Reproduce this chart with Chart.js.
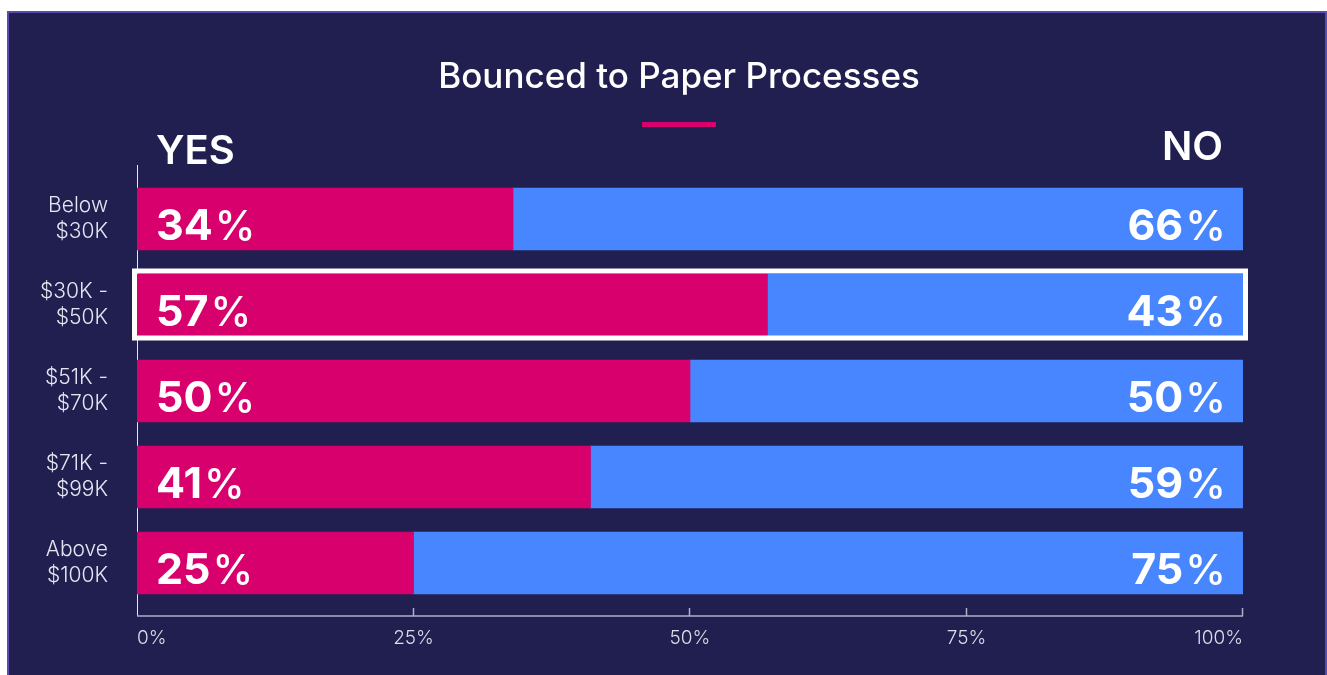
<!DOCTYPE html>
<html>
<head>
<meta charset="utf-8">
<script src="https://cdn.jsdelivr.net/npm/chart.js@4"></script>
<style>
  html, body { margin: 0; padding: 0; background: #ffffff; overflow: hidden; }
  #panel {
    position: absolute; left: 7px; top: 11px;
    width: 1316px; height: 680px;
    background: #201f4f; border: 2px solid #5a4cae;
  }
  #grafico { position: absolute; left: 0; top: 0; }
</style>
</head>
<body>
<div id="panel"><canvas id="grafico" width="1316" height="662"></canvas></div>
<script>
// datos del gráfico
const categorias = [["Below", "$30K"], ["$30K -", "$50K"], ["$51K -", "$70K"], ["$71K -", "$99K"], ["Above", "$100K"]];
const valoresSi = [34, 57, 50, 41, 25];
const valoresNo = [66, 43, 50, 59, 75];
const ticksX = [0, 25, 50, 75, 100];
const titulo = "Bounced to Paper Processes";
const filaResaltada = 1;

const rosa = "#d7006c";
const azul = "#4886ff";

// Ejes, títulos, etiquetas y marco resaltado
const decoracion = {
    id: "decoracion",
    beforeDatasetsDraw(chart) {
        const { ctx, chartArea: a } = chart;
        const xs = chart.scales.x;
        ctx.save();
        // eje Y
        ctx.strokeStyle = "#e6e6f2";
        ctx.lineWidth = 1;
        ctx.beginPath();
        ctx.moveTo(a.left + 0.5, a.top - 11);
        ctx.lineTo(a.left + 0.5, a.bottom + 10);
        ctx.stroke();
        // eje X con marcas hacia arriba
        ctx.strokeStyle = "#aeaec6";
        ctx.lineWidth = 1.5;
        ctx.beginPath();
        ctx.moveTo(a.left, a.bottom + 10);
        ctx.lineTo(a.right, a.bottom + 10);
        ticksX.slice(1).forEach(v => {
            const px = Math.round(xs.getPixelForValue(v)) - 0.5;
            ctx.moveTo(px, a.bottom + 2);
            ctx.lineTo(px, a.bottom + 10);
        });
        ctx.stroke();
        ctx.restore();
    },
    afterDatasetsDraw(chart) {
        const { ctx, chartArea: a } = chart;
        const barrasSi = chart.getDatasetMeta(0).data;
        const barrasNo = chart.getDatasetMeta(1).data;
        ctx.save();
        // marco blanco de la fila resaltada
        const b = barrasSi[filaResaltada];
        const h = b.height;
        ctx.strokeStyle = "#ffffff";
        ctx.lineWidth = 5;
        ctx.strokeRect(a.left - 2.5, b.y - h / 2 - 3, a.right - a.left + 5, h + 5);

        // etiquetas de valor
        ctx.fillStyle = "#ffffff";
        ctx.textBaseline = "alphabetic";
        const num = "700 43px Inter, 'Noto Sans', sans-serif";
        const pct = "500 41px Inter, 'Noto Sans', sans-serif";
        barrasSi.forEach((bar, i) => {
            const y = bar.y + 21;
            ctx.font = num;
            const t = String(valoresSi[i]);
            ctx.textAlign = "left";
            ctx.fillText(t, a.left + 19, y);
            const w = ctx.measureText(t).width;
            ctx.font = pct;
            ctx.fillText("%", a.left + 21 + w, y);
        });
        barrasNo.forEach((bar, i) => {
            const y = bar.y + 21;
            ctx.font = pct;
            ctx.textAlign = "right";
            ctx.fillText("%", a.right - 17, y);
            const w = ctx.measureText("%").width;
            ctx.font = num;
            ctx.fillText(String(valoresNo[i]), a.right - 19 - w, y);
        });
        ctx.restore();
    },
    afterDraw(chart) {
        const { ctx, chartArea: a } = chart;
        ctx.save();
        ctx.fillStyle = "#ffffff";
        ctx.font = "500 35px Inter, 'Noto Sans', sans-serif";
        ctx.textAlign = "center";
        ctx.textBaseline = "alphabetic";
        ctx.fillText(titulo, 670, 75);
        // subrayado rosa
        ctx.fillStyle = rosa;
        ctx.fillRect(633, 109, 74, 5);
        // YES / NO
        ctx.fillStyle = "#ffffff";
        ctx.font = "600 40px Inter, 'Noto Sans', sans-serif";
        ctx.textAlign = "left";
        ctx.fillText("YES", a.left + 19, 151);
        ctx.textAlign = "right";
        ctx.fillText("NO", a.right - 20, 147);
        ctx.restore();
    }
};

new Chart(document.getElementById("grafico"), {
    type: "bar",
    data: {
        labels: categorias,
        datasets: [
            { label: "YES", data: valoresSi, backgroundColor: rosa, barThickness: 62, borderWidth: 0 },
            { label: "NO", data: valoresNo, backgroundColor: azul, barThickness: 62, borderWidth: 0 }
        ]
    },
    options: {
        indexAxis: "y",
        responsive: false,
        animation: false,
        layout: { padding: { top: 163, right: 82, bottom: 0, left: 0 } },
        plugins: {
            legend: { display: false },
            tooltip: { enabled: false }
        },
        scales: {
            x: {
                stacked: true,
                min: 0,
                max: 100,
                afterBuildTicks: s => { s.ticks = ticksX.map(v => ({ value: v })); },
                afterFit: s => { s.height = 69; },
                grid: { display: false, drawTicks: false },
                border: { display: false },
                ticks: {
                    align: "inner",
                    padding: 21,
                    color: "#dcdcea",
                    font: { family: "Inter", size: 19, weight: 300 },
                    callback: v => v + "%"
                }
            },
            y: {
                stacked: true,
                afterFit: s => { s.width = 128; },
                grid: { display: false, drawTicks: false },
                border: { display: false },
                ticks: {
                    padding: 29,
                    color: "#e6e6f2",
                    font: { family: "Inter", size: 21, weight: 300, lineHeight: 1.25 }
                }
            }
        }
    },
    plugins: [decoracion]
});
</script>
</body>
</html>
